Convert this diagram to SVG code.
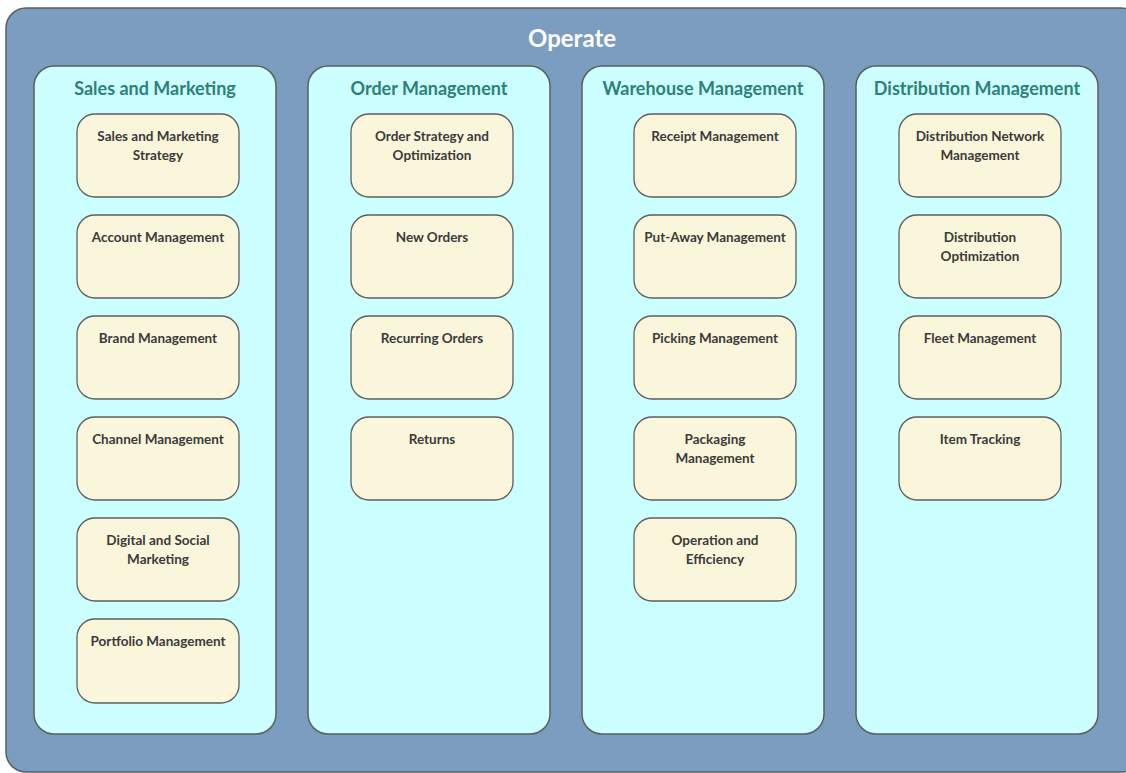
<svg xmlns="http://www.w3.org/2000/svg" width="1126" height="773" viewBox="0 0 1126 773">
<style>
.outer{fill:#7B9DC0;stroke:#5E5E5E;stroke-width:1.5}
.col{fill:#CCFFFF;stroke:#5E5E5E;stroke-width:1.5}
.node{fill:#FAF6DC;stroke:#5E5E5E;stroke-width:1.3}
.t0{font-family:Lato,"Liberation Sans",sans-serif;font-weight:bold;font-size:24px;fill:#FFFFFF;text-anchor:middle}
.t1{font-family:Lato,"Liberation Sans",sans-serif;font-weight:bold;font-size:18px;fill:#2E8079;text-anchor:middle}
.t2{font-family:Lato,"Liberation Sans",sans-serif;font-weight:bold;font-size:13.5px;fill:#3A3A3A;text-anchor:middle}
</style>
<rect width="1126" height="773" fill="#FFFFFF"/>
<g id="operate">
<rect class="outer" x="6" y="8" width="1135" height="764" rx="20"/>
<text class="t0" x="572" y="47">Operate</text>
</g>
<g id="sales-and-marketing">
<rect class="col" x="34" y="66" width="242" height="668" rx="20"/>
<text class="t1" x="155" y="95">Sales and Marketing</text>
</g>
<g id="order-management">
<rect class="col" x="308" y="66" width="242" height="668" rx="20"/>
<text class="t1" x="429" y="95">Order Management</text>
</g>
<g id="warehouse-management">
<rect class="col" x="582" y="66" width="242" height="668" rx="20"/>
<text class="t1" x="703" y="95">Warehouse Management</text>
</g>
<g id="distribution-management">
<rect class="col" x="856" y="66" width="242" height="668" rx="20"/>
<text class="t1" x="977" y="95">Distribution Management</text>
</g>

<g id="n-sm-strategy"><rect class="node" x="77" y="114" width="162" height="83" rx="18"/><text class="t2" x="158" y="141">Sales and Marketing</text><text class="t2" x="158" y="160">Strategy</text></g>
<g id="n-account"><rect class="node" x="77" y="215" width="162" height="83" rx="18"/><text class="t2" x="158" y="242">Account Management</text></g>
<g id="n-brand"><rect class="node" x="77" y="316" width="162" height="83" rx="18"/><text class="t2" x="158" y="343">Brand Management</text></g>
<g id="n-channel"><rect class="node" x="77" y="417" width="162" height="83" rx="18"/><text class="t2" x="158" y="444">Channel Management</text></g>
<g id="n-digital"><rect class="node" x="77" y="518" width="162" height="83" rx="18"/><text class="t2" x="158" y="545">Digital and Social</text><text class="t2" x="158" y="564">Marketing</text></g>
<g id="n-portfolio"><rect class="node" x="77" y="619" width="162" height="84" rx="18"/><text class="t2" x="158" y="646">Portfolio Management</text></g>

<g id="n-order-strategy"><rect class="node" x="351" y="114" width="162" height="83" rx="18"/><text class="t2" x="432" y="141">Order Strategy and</text><text class="t2" x="432" y="160">Optimization</text></g>
<g id="n-new-orders"><rect class="node" x="351" y="215" width="162" height="83" rx="18"/><text class="t2" x="432" y="242">New Orders</text></g>
<g id="n-recurring"><rect class="node" x="351" y="316" width="162" height="83" rx="18"/><text class="t2" x="432" y="343">Recurring Orders</text></g>
<g id="n-returns"><rect class="node" x="351" y="417" width="162" height="83" rx="18"/><text class="t2" x="432" y="444">Returns</text></g>

<g id="n-receipt"><rect class="node" x="634" y="114" width="162" height="83" rx="18"/><text class="t2" x="715" y="141">Receipt Management</text></g>
<g id="n-putaway"><rect class="node" x="634" y="215" width="162" height="83" rx="18"/><text class="t2" x="715" y="242">Put-Away Management</text></g>
<g id="n-picking"><rect class="node" x="634" y="316" width="162" height="83" rx="18"/><text class="t2" x="715" y="343">Picking Management</text></g>
<g id="n-packaging"><rect class="node" x="634" y="417" width="162" height="83" rx="18"/><text class="t2" x="715" y="444">Packaging</text><text class="t2" x="715" y="463">Management</text></g>
<g id="n-operation"><rect class="node" x="634" y="518" width="162" height="83" rx="18"/><text class="t2" x="715" y="545">Operation and</text><text class="t2" x="715" y="564">Efficiency</text></g>

<g id="n-dist-network"><rect class="node" x="899" y="114" width="162" height="83" rx="18"/><text class="t2" x="980" y="141">Distribution Network</text><text class="t2" x="980" y="160">Management</text></g>
<g id="n-dist-opt"><rect class="node" x="899" y="215" width="162" height="83" rx="18"/><text class="t2" x="980" y="242">Distribution</text><text class="t2" x="980" y="261">Optimization</text></g>
<g id="n-fleet"><rect class="node" x="899" y="316" width="162" height="83" rx="18"/><text class="t2" x="980" y="343">Fleet Management</text></g>
<g id="n-item"><rect class="node" x="899" y="417" width="162" height="83" rx="18"/><text class="t2" x="980" y="444">Item Tracking</text></g>
<g id="connectors"></g>
</svg>
